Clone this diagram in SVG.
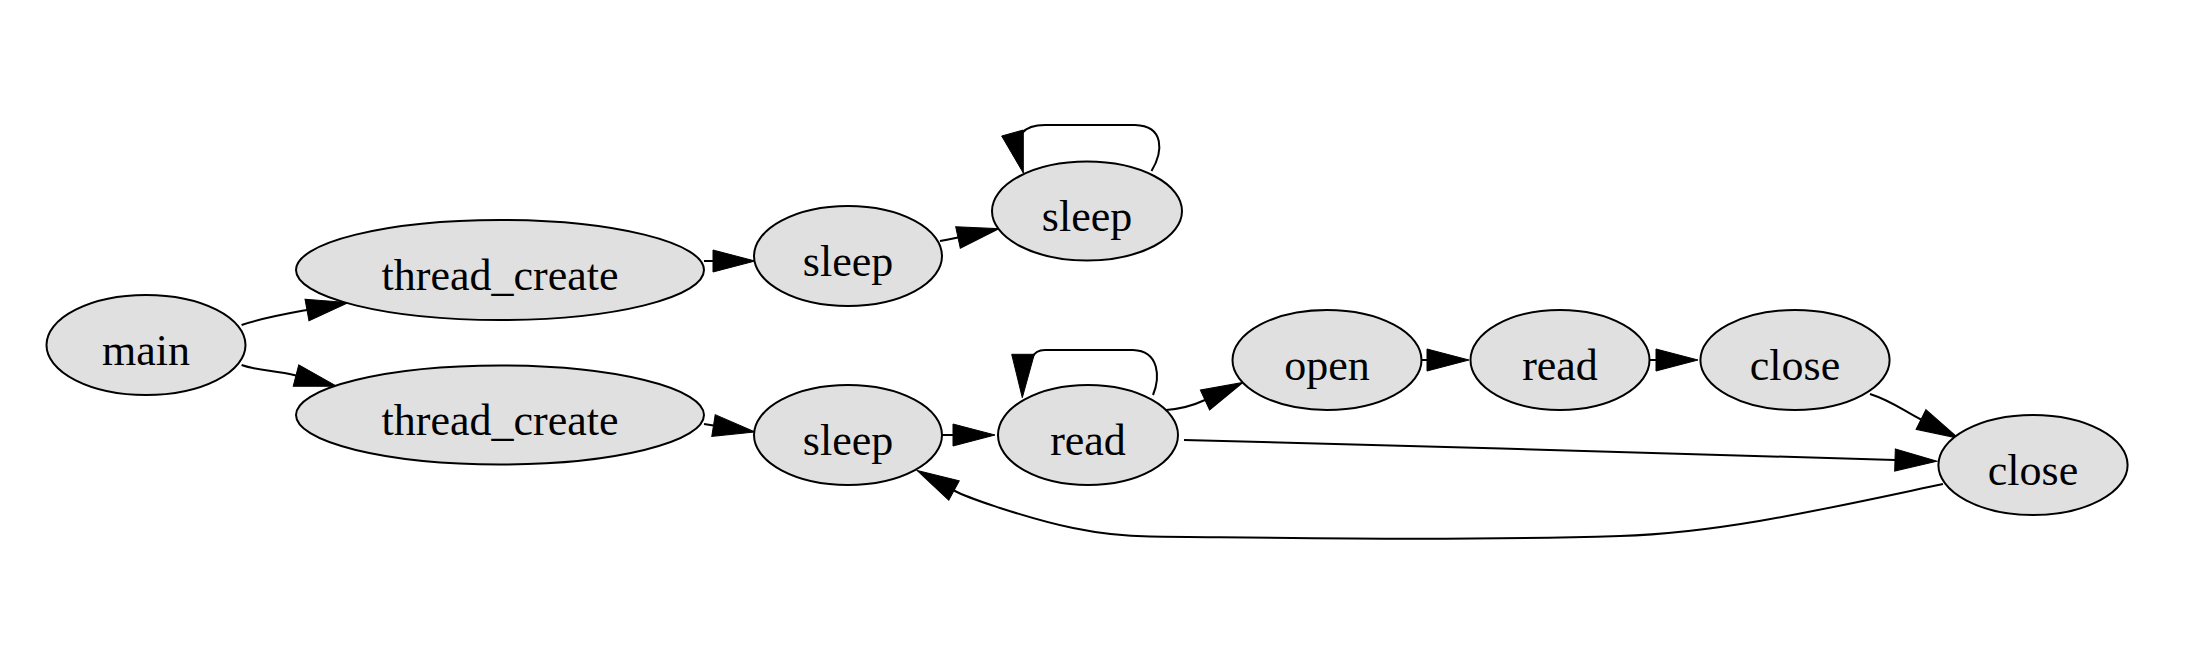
<svg xmlns="http://www.w3.org/2000/svg" width="2198" height="654" viewBox="0 0 2198 654">
<style>
.node ellipse{fill:#e0e0e0;stroke:#000;stroke-width:2}
.node text{font-family:"Liberation Serif","Times New Roman",serif;font-size:44px;fill:#000;text-anchor:middle}
.edge{fill:none;stroke:#000;stroke-width:2;marker-end:url(#arr)}
.loop{fill:none;stroke:#000;stroke-width:2}
.ah{fill:#000;stroke:#000;stroke-width:1}
</style>
<defs>
<marker id="arr" markerUnits="userSpaceOnUse" markerWidth="44" markerHeight="24" refX="0" refY="11" orient="auto" overflow="visible">
<path d="M0,0 L42,11 L0,22 Z" fill="#000" stroke="#000" stroke-width="1"/>
</marker>
</defs>
<rect width="2198" height="654" fill="#fff"/>
<g id="connectors">
<path class="edge" d="M241.6,325 C262,318 285,314 307,310"/>
<path class="edge" d="M241.6,365 C258,371 275,370 296,375.5"/>
<path class="edge" d="M704,261 L713,261"/>
<path class="edge" d="M704,424 L713.5,425.5"/>
<path class="edge" d="M940,241 C946,240 951,239 958,237.5"/>
<path class="loop" d="M1151.5,171 C1163,152 1165,126 1135,125 L1045,125 C1034,125 1027,127 1022,133"/>
<polygon class="ah" points="1001.7,136 1023.3,130 1023.3,173"/>
<path class="edge" d="M942,435 L953,435"/>
<path class="loop" d="M1153,395 C1160,378 1160,351 1133,350 L1045,350 C1038,350 1034,353 1032,358"/>
<polygon class="ah" points="1011.7,354.3 1034.3,354.3 1022.3,397.7"/>
<path class="edge" d="M1166,410 C1180,409 1192,406 1205,400"/>
<path class="edge" d="M1422,360 L1427,360"/>
<path class="edge" d="M1650,360 L1656,360"/>
<path class="edge" d="M1870,394 C1892,401 1904,411 1921,419.5"/>
<path class="edge" d="M1184,440 C1420,446 1660,453 1895,460"/>
<path class="edge" d="M1943,484 C1820,510 1720,533 1620,536 C1450,541 1300,538 1150,536.5 C1095,536 1050,524 1000,508 C985,503 966,497 954,490.5"/>
</g>
<g id="main" class="node"><ellipse cx="146" cy="345" rx="99.5" ry="50"/><text x="146" y="365">main</text></g>
<g id="thread_create1" class="node"><ellipse cx="500" cy="270" rx="204" ry="50"/><text x="500" y="290">thread_create</text></g>
<g id="thread_create2" class="node"><ellipse cx="500" cy="415" rx="204" ry="49.5"/><text x="500" y="435">thread_create</text></g>
<g id="sleep1" class="node"><ellipse cx="848" cy="256" rx="94" ry="50"/><text x="848" y="276">sleep</text></g>
<g id="sleep2" class="node"><ellipse cx="1087" cy="211" rx="95" ry="49.5"/><text x="1087" y="231">sleep</text></g>
<g id="sleep3" class="node"><ellipse cx="848" cy="435" rx="94" ry="50"/><text x="848" y="455">sleep</text></g>
<g id="read1" class="node"><ellipse cx="1088" cy="435" rx="90" ry="50"/><text x="1088" y="455">read</text></g>
<g id="open" class="node"><ellipse cx="1327" cy="360" rx="94.5" ry="50"/><text x="1327" y="380">open</text></g>
<g id="read2" class="node"><ellipse cx="1560" cy="360" rx="89.5" ry="50"/><text x="1560" y="380">read</text></g>
<g id="close1" class="node"><ellipse cx="1795" cy="360" rx="94.6" ry="50"/><text x="1795" y="380">close</text></g>
<g id="close2" class="node"><ellipse cx="2033" cy="465" rx="94.6" ry="50"/><text x="2033" y="485">close</text></g>
</svg>
